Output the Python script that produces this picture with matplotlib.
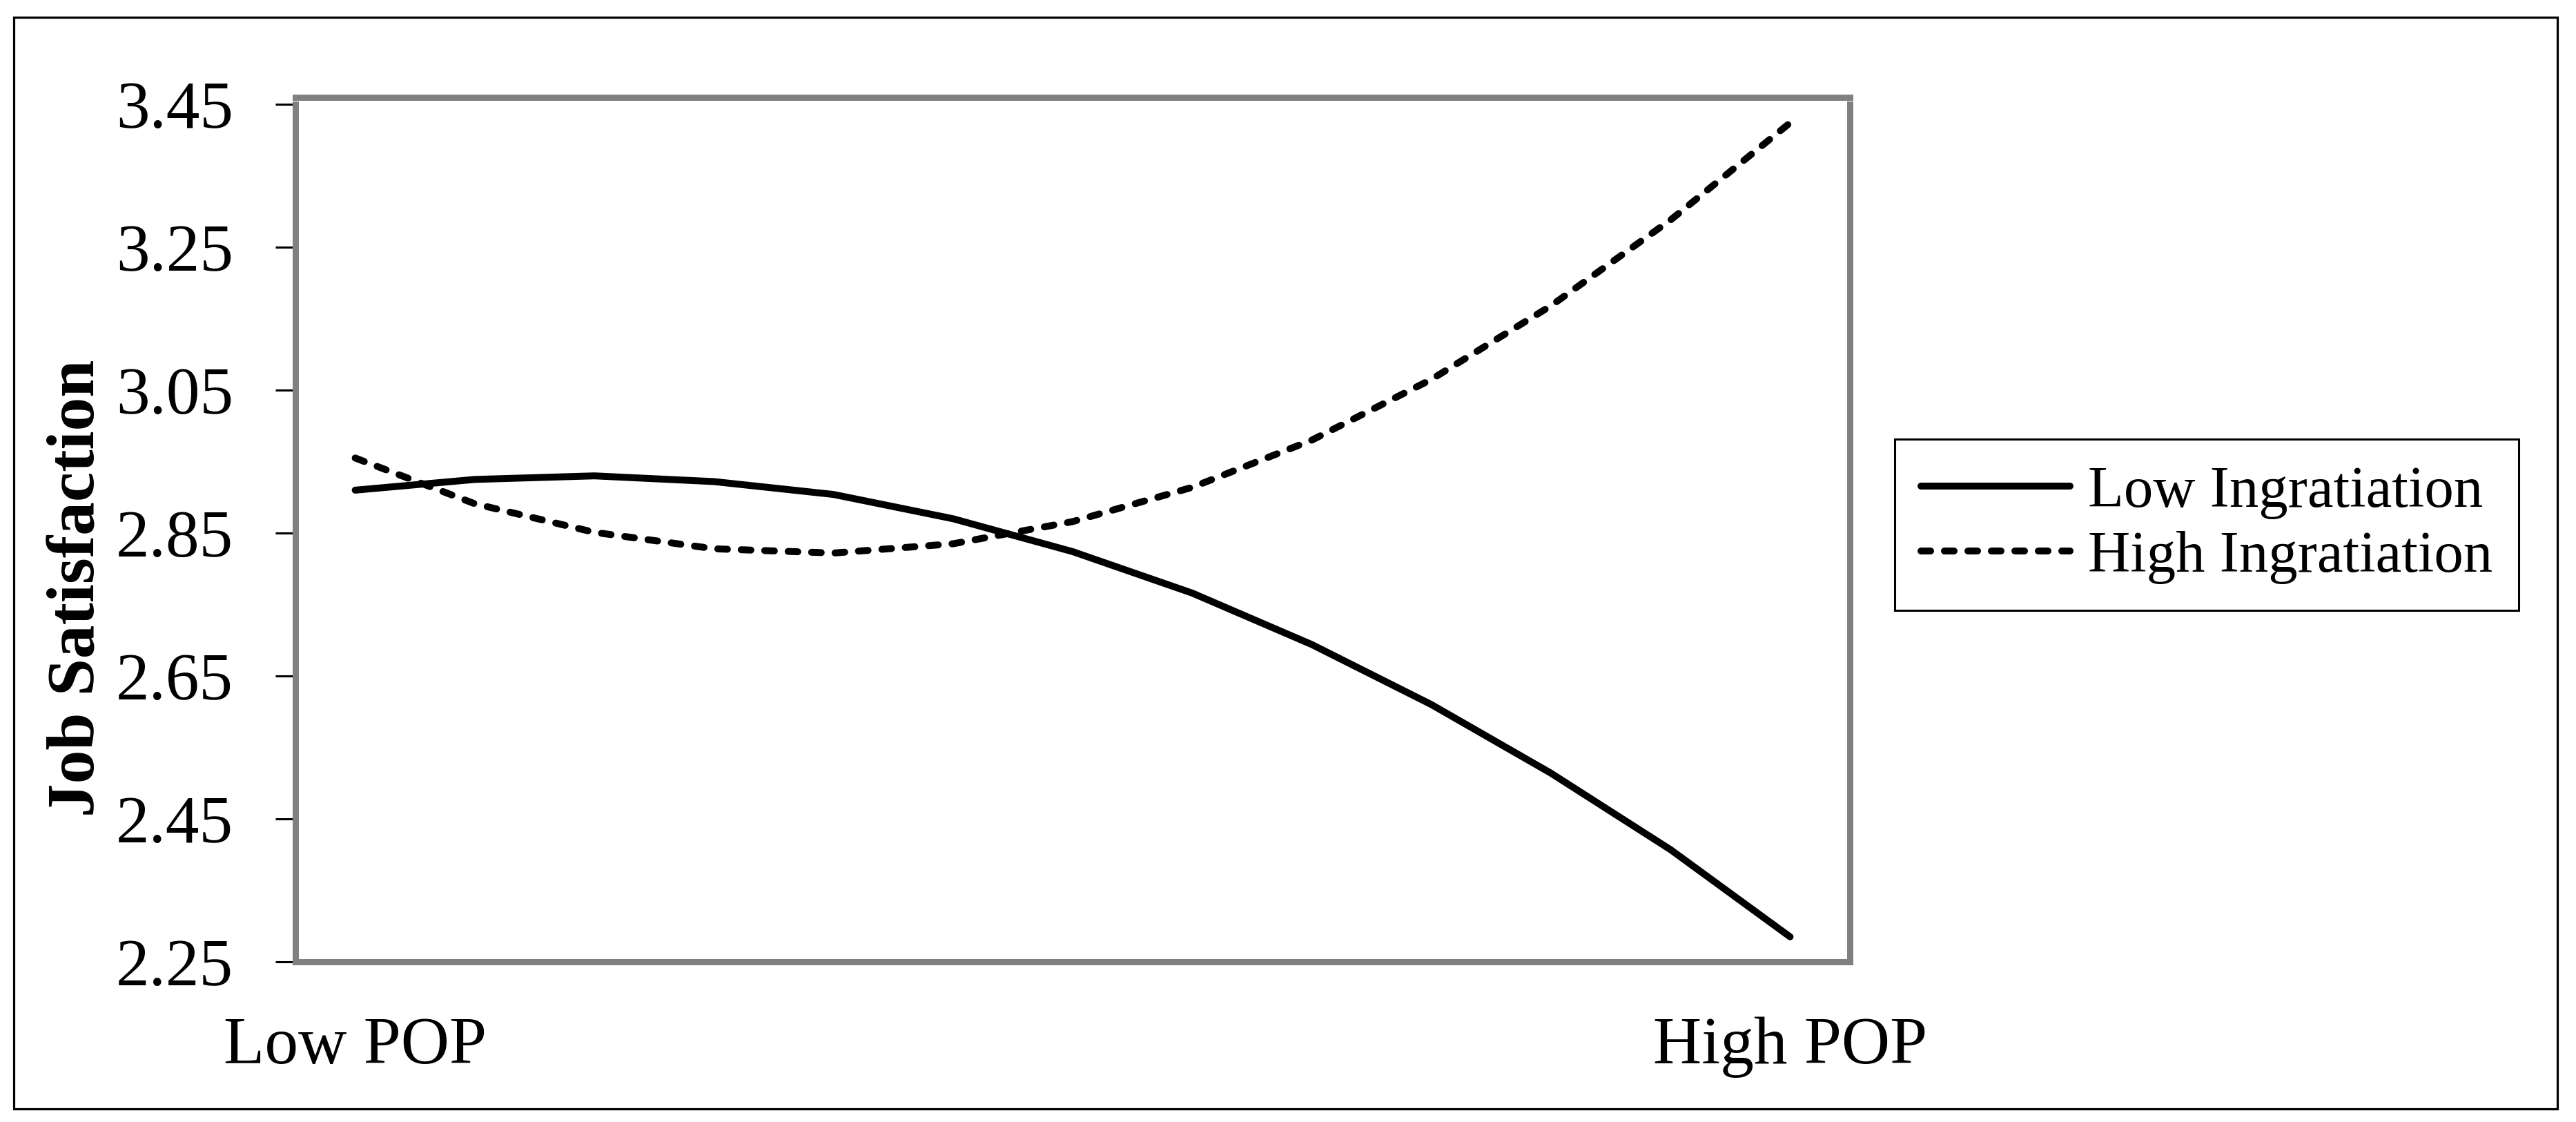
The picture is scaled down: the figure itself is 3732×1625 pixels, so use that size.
import matplotlib
matplotlib.use("Agg")
import matplotlib.pyplot as plt
from matplotlib.patches import Rectangle

plt.rcParams["font.family"] = ["Liberation Serif", "DejaVu Serif"]

# 13 equally spaced points along the POP axis (only the ends are labelled)
pop_points = [0, 1, 2, 3, 4, 5, 6, 7, 8, 9, 10, 11, 12]
pop_labels = ["Low POP", "High POP"]
low_ingratiation = [2.910, 2.925, 2.930, 2.922, 2.904, 2.870, 2.824, 2.766, 2.694, 2.610, 2.514, 2.407, 2.285]
high_ingratiation = [2.955, 2.891, 2.851, 2.828, 2.822, 2.835, 2.866, 2.914, 2.980, 3.065, 3.168, 3.288, 3.424]
y_ticks = [2.25, 2.45, 2.65, 2.85, 3.05, 3.25, 3.45]

W, H = 3732, 1625
fig = plt.figure(figsize=(W / 100, H / 100), dpi=100)
ax = fig.add_axes([428 / W, 1 - 1393 / H, (2680 - 428) / W, (1393 - 151) / H])

ax.plot(pop_points, low_ingratiation, color="black", lw=7.2,
        solid_capstyle="round", solid_joinstyle="round", label="Low Ingratiation")
ax.plot(pop_points, high_ingratiation, color="black", lw=7.2, ls=(0, (1.4, 2.0)),
        dash_capstyle="round", dash_joinstyle="round", label="High Ingratiation")

ax.set_xlim(-0.5, 12.5)
ax.set_ylim(2.25, 3.45)
ax.set_yticks(y_ticks)
ax.set_yticklabels([f"{v:.2f}" for v in y_ticks])
ax.set_xticks([pop_points[0], pop_points[-1]])
ax.set_xticklabels(pop_labels)
ax.tick_params(axis="y", direction="out", length=21, width=2.2, pad=44, labelsize=70, color="black")
ax.tick_params(axis="x", length=0, pad=57, labelsize=70)

# plot-area frame in grey, axis lines in black
for s in ax.spines.values():
    s.set_color("#808080")
    s.set_linewidth(6.5)
ax.spines["top"].set_position(("outward", 7))
ax.axvline(-0.5, color="black", lw=2.8, clip_on=False)
ax.axhline(2.25, color="black", lw=2.8, clip_on=False)

ax.set_ylabel("Job Satisfaction", fontsize=70, fontweight="bold", va="center")
ax.yaxis.set_label_coords(-0.1399, 0.4356)

leg = ax.legend(loc="center left", bbox_to_anchor=(2745 / W, 1 - 760 / H),
                bbox_transform=fig.transFigure, borderaxespad=0, fontsize=61,
                frameon=True, fancybox=False, framealpha=1, handlelength=2.55,
                handletextpad=0.3, borderpad=0.45, labelspacing=0.2)
leg.get_frame().set_edgecolor("black")
leg.get_frame().set_linewidth(2.2)

# outer border around the whole figure
fig.patches.append(Rectangle((20 / W, 1 - 1606 / H), (3705 - 20) / W, (1606 - 25) / H,
                             transform=fig.transFigure, fill=False, edgecolor="black", lw=2.3))

fig.savefig("out.png", dpi=100)
